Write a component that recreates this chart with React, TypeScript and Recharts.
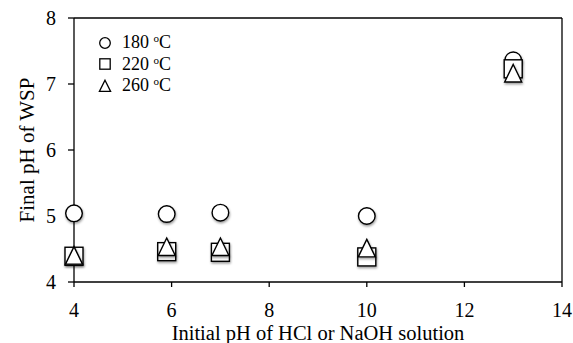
import React from 'react';
import { ScatterChart, Scatter, XAxis, YAxis, ReferenceLine, Legend } from 'recharts';

// initial pH of the HCl / NaOH solution
const initialPH = [4, 5.9, 7, 10, 13];
// final pH of WSP per temperature
const final180 = [5.04, 5.03, 5.05, 5.0, 7.36];
const final220 = [4.39, 4.46, 4.45, 4.38, 7.23];
const final260 = [4.4, 4.53, 4.53, 4.51, 7.16];

const xTicks = [4, 6, 8, 10, 12, 14];
const yTicks = [4, 5, 6, 7, 8];
const tempLabels = ['180', '220', '260'];

const FONT = '"Liberation Serif", "Times New Roman", serif';

const toPoints = (ys: number[]) => initialPH.map((x, i) => ({ x, y: ys[i] }));

const markStyle = { fill: '#fff', stroke: '#000', strokeWidth: 1.4, filter: 'url(#markShadow)' };

const CircleMark = (p: any) => <circle cx={p.cx} cy={p.cy} r={8.3} {...markStyle} />;
const SquareMark = (p: any) => <rect x={p.cx - 9} y={p.cy - 9} width={18} height={18} {...markStyle} />;
const TriangleMark = (p: any) => (
  <polygon
    points={`${p.cx},${p.cy - 9} ${p.cx + 8.5},${p.cy + 8.5} ${p.cx - 8.5},${p.cy + 8.5}`}
    {...markStyle}
  />
);

const legendSymbol = (i: number) => {
  const s = { fill: '#fff', stroke: '#000', strokeWidth: 1.3 };
  if (i === 0) return <circle cx={8} cy={8} r={5.3} {...s} />;
  if (i === 1) return <rect x={2.8} y={2.8} width={10.4} height={10.4} {...s} />;
  return <polygon points="8,2.2 13.6,13.4 2.4,13.4" {...s} />;
};

const renderLegend = () => (
  <div style={{ fontFamily: FONT, fontSize: 18, color: '#000' }}>
    {tempLabels.map((t, i) => (
      <div key={t} style={{ display: 'flex', alignItems: 'center', height: 21.5 }}>
        <svg width={16} height={16} style={{ marginRight: 9 }}>
          {legendSymbol(i)}
        </svg>
        <span style={{ whiteSpace: 'nowrap' }}>
          {t} <span style={{ fontSize: 11, position: 'relative', top: -6 }}>o</span>C
        </span>
      </div>
    ))}
  </div>
);

const YTitle = (props: any) => {
  const vb = props.viewBox;
  const cx = 27;
  const cy = vb.y + vb.height / 2;
  return (
    <text
      x={cx}
      y={cy}
      transform={`rotate(-90, ${cx}, ${cy})`}
      textAnchor="middle"
      dominantBaseline="central"
      fontFamily={FONT}
      fontSize={21}
      fill="#000"
    >
      Final pH of WSP
    </text>
  );
};

const XTitle = (props: any) => {
  const vb = props.viewBox;
  return (
    <text
      x={vb.x + vb.width / 2}
      y={vb.y + vb.height - 3.5}
      textAnchor="middle"
      fontFamily={FONT}
      fontSize={20.5}
      fill="#000"
    >
      Initial pH of HCl or NaOH solution
    </text>
  );
};

const tickStyle = { fill: '#000', fontSize: 20, fontFamily: FONT };
const lineStyle = { stroke: '#000', strokeWidth: 1.3 };

export default function App() {
  return (
    <div style={{ position: 'absolute', left: 0, top: 0, background: '#fff' }}>
      <svg width={0} height={0} style={{ position: 'absolute' }}>
        <defs>
          <filter id="markShadow" x="-50%" y="-50%" width="200%" height="200%">
            <feDropShadow dx={0.6} dy={1.6} stdDeviation={1} floodColor="#000" floodOpacity={0.4} />
          </filter>
        </defs>
      </svg>
      <ScatterChart width={573} height={343} margin={{ top: 18, right: 11, bottom: 0, left: 0 }}>
        <XAxis
          type="number"
          dataKey="x"
          domain={[4, 14]}
          ticks={xTicks}
          height={61}
          axisLine={lineStyle}
          tickLine={lineStyle}
          tickSize={5}
          tickMargin={16}
          tick={tickStyle}
          label={<XTitle />}
        />
        <YAxis
          type="number"
          dataKey="y"
          domain={[4, 8]}
          ticks={yTicks}
          width={74}
          axisLine={lineStyle}
          tickLine={lineStyle}
          tickSize={6}
          tickMargin={12}
          tick={tickStyle}
          label={<YTitle />}
        />
        <ReferenceLine y={8} stroke="#000" strokeWidth={1.3} />
        <ReferenceLine x={14} stroke="#000" strokeWidth={1.3} />
        <Legend
          content={renderLegend}
          layout="horizontal"
          verticalAlign="middle"
          align="center"
          wrapperStyle={{ left: 97, top: 32, width: 'auto', height: 'auto' }}
        />
        <Scatter name="180" data={toPoints(final180)} shape={CircleMark} isAnimationActive={false} />
        <Scatter name="220" data={toPoints(final220)} shape={SquareMark} isAnimationActive={false} />
        <Scatter name="260" data={toPoints(final260)} shape={TriangleMark} isAnimationActive={false} />
      </ScatterChart>
    </div>
  );
}
